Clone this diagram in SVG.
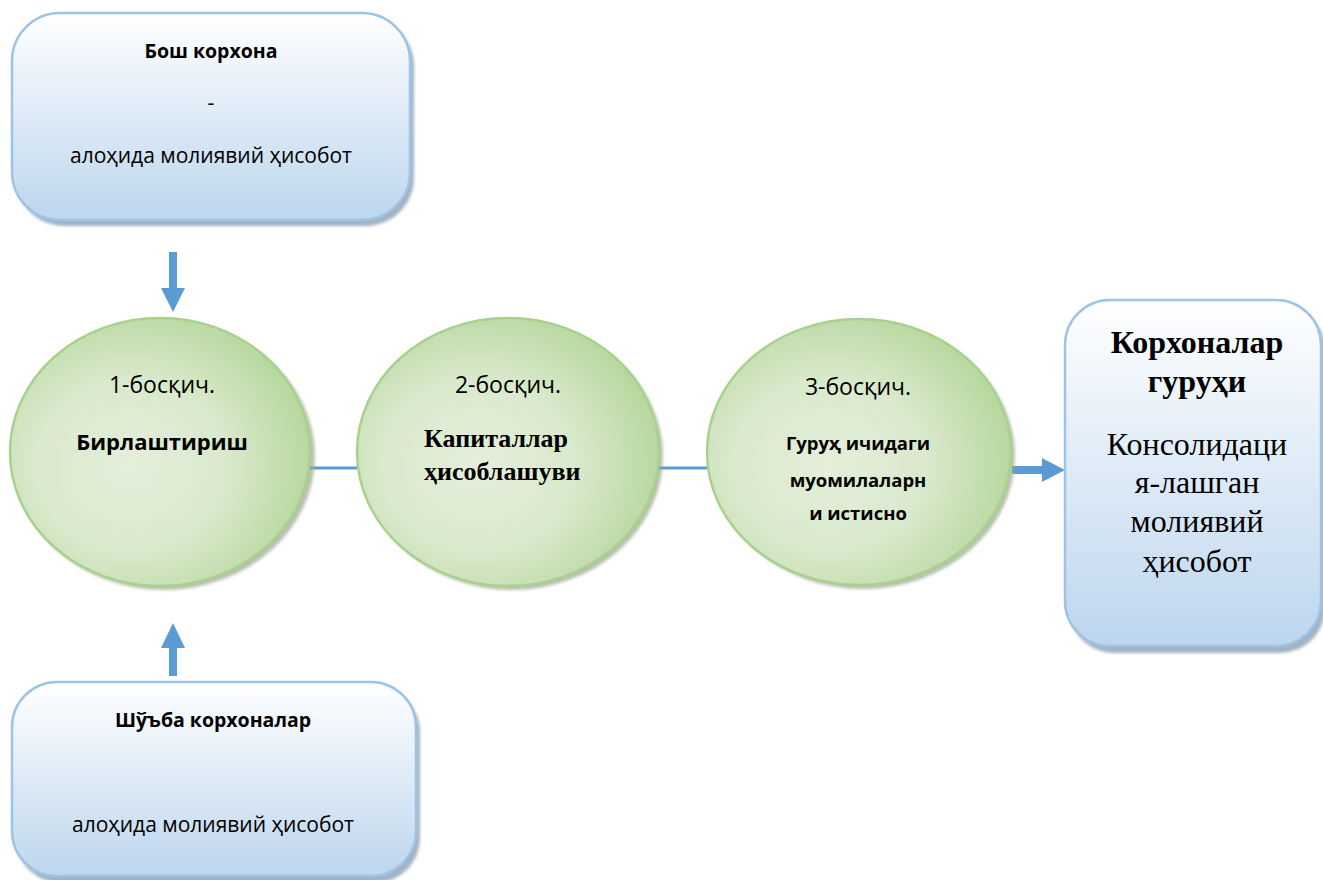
<svg xmlns="http://www.w3.org/2000/svg" width="1323" height="880" viewBox="0 0 1323 880">
<style>
.box{fill:url(#boxg);stroke:#9dc3e6;stroke-width:2.5}
.shadow{fill:#8ea0b3;opacity:0.8}
.ell{fill:url(#ellg);stroke:#a9d18e;stroke-width:2.5}
.eshadow{fill:#9aa88e;opacity:0.7}
.sans{font-family:"Open Sans","Noto Sans","DejaVu Sans",sans-serif;fill:#000}
.serif{font-family:"Liberation Serif","Times New Roman",serif;fill:#000}
.b{font-weight:bold}
.line{stroke:#5b9bd5;stroke-width:3;fill:none}
.arrow{fill:#5b9bd5}
</style>
<defs>
<linearGradient id="boxg" x1="0" y1="0" x2="0" y2="1">
<stop offset="0" stop-color="#ffffff"/>
<stop offset="1" stop-color="#bdd6ee"/>
</linearGradient>
<radialGradient id="ellg" cx="0.4" cy="0.55" r="0.65">
<stop offset="0" stop-color="#e4efdb"/>
<stop offset="0.5" stop-color="#d9e9cc"/>
<stop offset="1" stop-color="#b3d598"/>
</radialGradient>
<filter id="blur" x="-10%" y="-10%" width="120%" height="120%"><feGaussianBlur stdDeviation="1.5"/></filter>
</defs>

<g id="connectors">
<line class="line" x1="310" y1="468" x2="358" y2="468"/>
<line class="line" x1="659" y1="468" x2="707" y2="468"/>
<path class="arrow" d="M169,252 H177 V288 H185 L173,312 L161,288 H169 Z"/>
<path class="arrow" d="M169,676 H177 V648 H185 L173,623 L161,648 H169 Z"/>
<path class="arrow" d="M1012,466 H1042 V458 L1065,470 L1042,482 V474 H1012 Z"/>
</g>

<g id="node-parent">
<rect class="shadow" x="16" y="18" width="398" height="208" rx="48" filter="url(#blur)"/>
<rect class="box" x="12" y="13" width="398" height="207" rx="48"/>
<text class="sans b" x="211" y="58" font-size="19.5" text-anchor="middle">Бош корхона</text>
<text class="sans" x="211" y="110" font-size="21" text-anchor="middle">-</text>
<text class="sans" x="211" y="163" font-size="21" text-anchor="middle">алоҳида молиявий ҳисобот</text>
</g>

<g id="node-sub">
<rect class="shadow" x="16" y="687" width="404" height="196" rx="45" filter="url(#blur)"/>
<rect class="box" x="12" y="682" width="404" height="194" rx="45"/>
<text class="sans b" x="213" y="727" font-size="19.5" text-anchor="middle">Шўъба корхоналар</text>
<text class="sans" x="213" y="832" font-size="21" text-anchor="middle">алоҳида молиявий ҳисобот</text>
</g>

<g id="node-step1">
<ellipse class="eshadow" cx="164" cy="456" rx="151" ry="134" filter="url(#blur)"/>
<ellipse class="ell" cx="160" cy="452" rx="150" ry="134"/>
<text class="sans" x="162" y="393" font-size="23" text-anchor="middle">1-босқич.</text>
<text class="sans b" x="162" y="450" font-size="22" text-anchor="middle">Бирлаштириш</text>
</g>

<g id="node-step2">
<ellipse class="eshadow" cx="512" cy="456" rx="151" ry="134" filter="url(#blur)"/>
<ellipse class="ell" cx="508" cy="452" rx="151" ry="134"/>
<text class="sans" x="508" y="393" font-size="23" text-anchor="middle">2-босқич.</text>
<text class="serif b" x="424" y="447" font-size="26">Капиталлар</text>
<text class="serif b" x="424" y="480" font-size="26">ҳисоблашуви</text>
</g>

<g id="node-step3">
<ellipse class="eshadow" cx="863" cy="456" rx="152" ry="133" filter="url(#blur)"/>
<ellipse class="ell" cx="859" cy="452" rx="152" ry="133"/>
<text class="sans" x="858" y="395" font-size="23" text-anchor="middle">3-босқич.</text>
<text class="sans b" x="858" y="450" font-size="18.5" text-anchor="middle">Гуруҳ ичидаги</text>
<text class="sans b" x="858" y="487" font-size="18.5" text-anchor="middle">муомилаларн</text>
<text class="sans b" x="858" y="520" font-size="18.5" text-anchor="middle">и истисно</text>
</g>

<g id="node-group">
<rect class="shadow" x="1069" y="305" width="256" height="348" rx="45" filter="url(#blur)"/>
<rect class="box" x="1065" y="300" width="256" height="346" rx="45"/>
<text class="serif b" x="1197" y="353" font-size="32" text-anchor="middle">Корхоналар</text>
<text class="serif b" x="1197" y="392" font-size="32" text-anchor="middle">гуруҳи</text>
<text class="serif" x="1197" y="455" font-size="32" text-anchor="middle">Консолидаци</text>
<text class="serif" x="1197" y="493" font-size="32" text-anchor="middle">я-лашган</text>
<text class="serif" x="1197" y="532" font-size="32" text-anchor="middle">молиявий</text>
<text class="serif" x="1197" y="572" font-size="32" text-anchor="middle">ҳисобот</text>
</g>
</svg>
